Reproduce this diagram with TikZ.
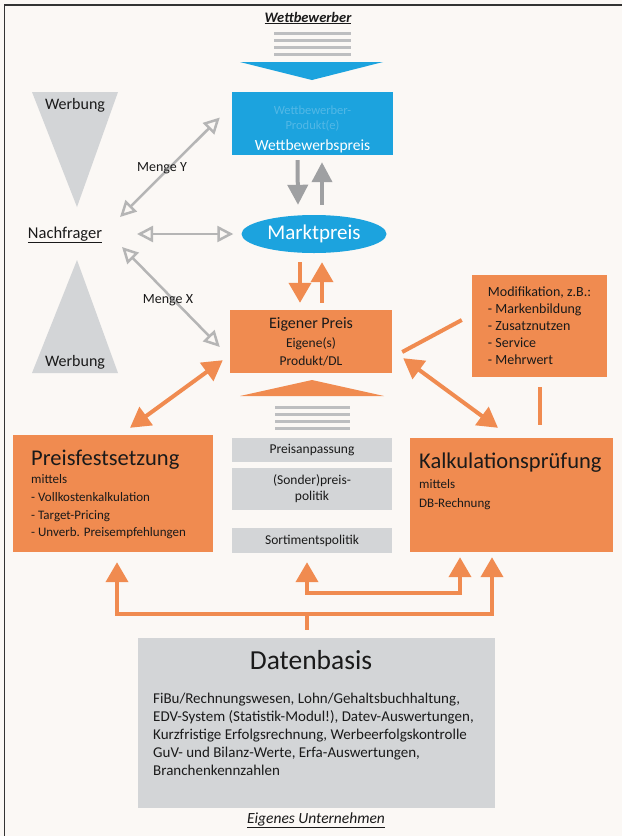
\documentclass[tikz,border=0pt]{standalone}
\usepackage{fontspec}
\setmainfont{Carlito}
\usetikzlibrary{arrows.meta}
\usetikzlibrary{shapes.geometric}
\usetikzlibrary{calc}

\definecolor{hgrund}{HTML}{FBF8F5}
\definecolor{rahmen}{HTML}{333333}
\definecolor{orangeb}{HTML}{F08B50}
\definecolor{blaub}{HTML}{1CA3DE}
\definecolor{blaut}{HTML}{52B8E6}
\definecolor{graub}{HTML}{D3D5D7}
\definecolor{graul}{HTML}{BDBEC0}
\definecolor{graup}{HTML}{B5B5B5}
\definecolor{graud}{HTML}{9FA0A2}
\definecolor{textd}{HTML}{1A1A1A}

\newcommand{\fsz}[2]{\fontsize{#1}{#2}\selectfont}

\begin{document}
\begin{tikzpicture}[x=1pt, y=-1pt,
  obox/.style={fill=orangeb, inner sep=0pt, text=textd},
  gbox/.style={fill=graub, inner sep=0pt, text=textd, minimum width=160pt, align=center},
  opfeil/.style={draw=orangeb, line width=4pt, -{Triangle[width=22pt,length=20pt]}},
  odoppel/.style={draw=orangeb, line width=4pt, {Triangle[width=22pt,length=20pt]}-{Triangle[width=22pt,length=20pt]}},
  olinie/.style={draw=orangeb, line width=4pt},
  gpfeil/.style={draw=graud, line width=4pt, -{Triangle[width=20pt,length=20pt]}},
  gdoppel/.style={draw=graup, line width=2.5pt, {Triangle[open,width=16pt,length=16pt]}-{Triangle[open,width=16pt,length=16pt]}},
  balken/.style={draw=graul, line width=3pt}]

% Hintergrund und Rahmen
\fill[hgrund] (0,0) rectangle (622,836);
\useasboundingbox (0,0) rectangle (622,836);
\draw[rahmen, line width=1.3pt] (4.5,836) -- (4.5,5) -- (622,5);

% Wettbewerber
\node[font=\fsz{14.5}{17}\bfseries\itshape, text=textd] (wettb) at (308,18) {\underline{Wettbewerber}};
\foreach \y in {33,40,47,54} \draw[balken] (274,\y) -- (351,\y);
\fill[blaub] (240,62) -- (383,62) -- (312,80) -- cycle;
\node[obox, fill=blaub, minimum width=161pt, minimum height=63pt, align=center, text=blaut, font=\fsz{12.5}{15}] (wbox) at (312.5,123.5)
  {\rule{0pt}{20pt}Wettbewerber-\\Produkt(e)\\[6pt]{\fsz{15.5}{18}\color{white}Wettbewerbspreis}};

% Marktpreis
\node[ellipse, fill=blaub, minimum width=145pt, minimum height=38pt, inner sep=0pt, text=white, font=\fsz{21}{24}] (markt) at (314,234) {Marktpreis};
\draw[gpfeil] ([xshift=-15pt,yshift=-5pt]wbox.south) -- ([xshift=-16pt,yshift=10pt]markt.north);
\draw[gpfeil] ([xshift=8pt,yshift=10pt]markt.north) -- ([xshift=9.5pt,yshift=-7pt]wbox.south);

% Eigener Preis
\node[obox, minimum width=162pt, minimum height=63pt, align=center, font=\fsz{13.5}{18}] (eigen) at (311,341.5)
  {{\fsz{16}{19}Eigener Preis}\\[1pt]Eigene(s)\\Produkt/DL};
\draw[opfeil] ([xshift=-14pt,yshift=-9pt]markt.south) -- ([xshift=-11pt,yshift=7pt]eigen.north);
\draw[opfeil] ([xshift=11pt,yshift=7pt]eigen.north) -- ([xshift=8pt,yshift=-9pt]markt.south);
\fill[orangeb] (312,380) -- (384,396) -- (240,396) -- cycle;
\foreach \y in {407,414,421,428} \draw[balken] (275,\y) -- (350,\y);

% Nachfrager und Werbung
\fill[graub] (32,92) -- (118,92) -- (77,207) -- cycle;
\fill[graub] (77,260) -- (118,373) -- (32,373) -- cycle;
\node[font=\fsz{16}{19}, text=textd] (werbungoben) at (75,105) {Werbung};
\node[font=\fsz{16}{19}, text=textd] (werbungunten) at (75,362) {Werbung};
\node[font=\fsz{16.5}{19}, text=textd] (nachfr) at (65,235) {\underline{Nachfrager}};
\draw[gdoppel] ([shift={(55,-18)}]nachfr.center) -- ([shift={(-12,-6)}]wbox.west);
\draw[gdoppel] ([shift={(72,-1)}]nachfr.center) -- ([xshift=-8pt]markt.west);
\draw[gdoppel] ([shift={(57,12)}]nachfr.center) -- ([shift={(-10,5.5)}]eigen.west);
\node[font=\fsz{14}{17}, text=textd] (mengey) at (162,168) {Menge Y};
\node[font=\fsz{14}{17}, text=textd] (mengex) at (168,300) {Menge X};

% Modifikation
\node[obox, minimum width=135pt, minimum height=102pt, align=left, font=\fsz{14}{17}] (modif) at (539.5,326)
  {Modifikation, z.B.:\\- Markenbildung\\- Zusatznutzen\\- Service\\- Mehrwert};

% Preisfestsetzung und Kalkulation
\node[obox, minimum width=200pt, minimum height=117pt] (fest) at (113,493.5) {};
\node[anchor=north west, align=left, inner sep=0pt, text=textd, font=\fsz{13}{17.8}] (festtext) at (31,450)
  {{\fsz{22.5}{26}Preisfestsetzung}\\[0pt]mittels\\- Vollkostenkalkulation\\- Target-Pricing\\- Unverb. Preisempfehlungen};
\node[obox, minimum width=203pt, minimum height=114pt] (kalk) at (511.5,495) {};
\node[anchor=north west, align=left, inner sep=0pt, text=textd, font=\fsz{13}{19}] (kalktext) at (419,453)
  {{\fsz{22.5}{26}Kalkulationsprüfung}\\[1pt]mittels\\DB-Rechnung};
\draw[odoppel] ([xshift=17pt,yshift=7pt]fest.north) -- ([xshift=-7pt,yshift=13pt]eigen.south west);
\draw[odoppel] ([xshift=11pt,yshift=15pt]eigen.south east) -- ([xshift=-13.5pt,yshift=10pt]kalk.north);
\draw[olinie] ([shift={(-10,-6)}]modif.west) -- ([shift={(10,10.5)}]eigen.east);
\draw[olinie] ([yshift=-10pt]modif.south) -- ([xshift=28pt,yshift=13pt]kalk.north);

% Instrumente
\node[gbox, minimum height=24pt, font=\fsz{13.5}{16}] (anpass) at (312,450) {Preisanpassung};
\node[gbox, minimum height=42pt, font=\fsz{13.5}{16}] (sonder) at (312,489) {(Sonder)preis-\\politik};
\node[gbox, minimum height=25pt, font=\fsz{13.5}{16}] (sortim) at (312,540.5) {Sortimentspolitik};

% Datenbasis
\node[fill=graub, minimum width=357pt, minimum height=170pt, inner sep=0pt] (daten) at (316.5,723) {};
\node[font=\fsz{27.5}{30}, text=textd] (datentitel) at (311,660) {Datenbasis};
\node[anchor=north west, align=left, inner sep=0pt, text=textd, font=\fsz{15}{18}] (datentext) at (153,692.5)
  {FiBu/Rechnungswesen, Lohn/Gehaltsbuchhaltung,\\EDV-System (Statistik-Modul!), Datev-Auswertungen,\\Kurzfristige Erfolgsrechnung, Werbeerfolgskontrolle\\GuV- und Bilanz-Werte, Erfa-Auswertungen,\\Branchenkennzahlen};
\node[font=\fsz{15.5}{18}\itshape, text=textd] (eigenes) at (316,820) {\underline{Eigenes Unternehmen}};

\coordinate (split) at ([xshift=-9.5pt,yshift=24pt]daten.north);
\draw[olinie] ([xshift=-9.5pt,yshift=8pt]daten.north) -- (split);
\draw[opfeil] (split) -| ([xshift=4pt,yshift=-10pt]fest.south);
\draw[opfeil] (split) -| ([xshift=-19.5pt,yshift=-5pt]kalk.south);
\draw[odoppel] ([xshift=-5pt,yshift=-9pt]sortim.south) -- ++(0,31) -| ([xshift=-51.5pt,yshift=-5pt]kalk.south);
\end{tikzpicture}
\end{document}
